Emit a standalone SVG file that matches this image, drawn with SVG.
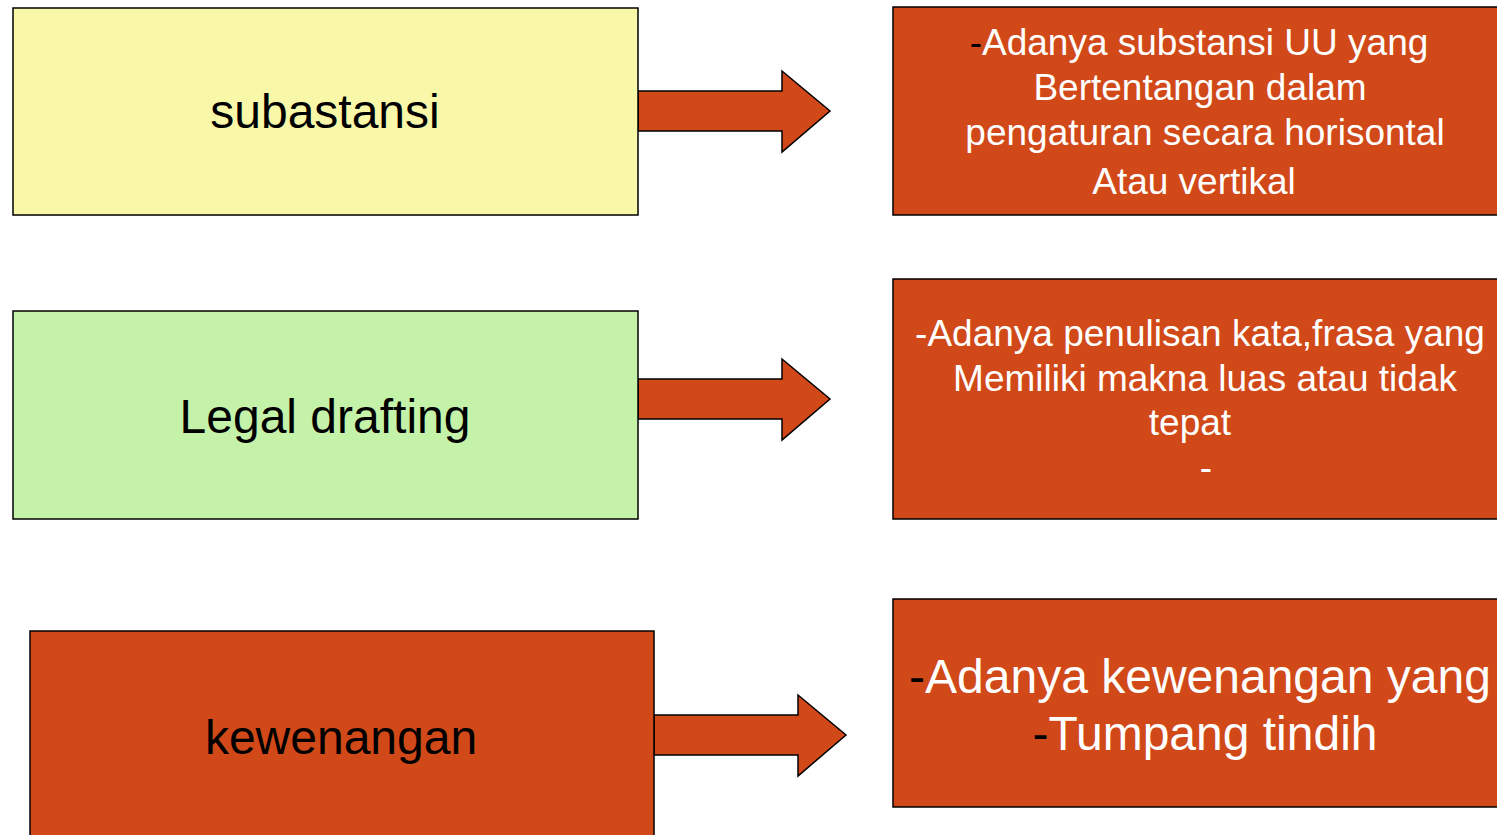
<svg xmlns="http://www.w3.org/2000/svg" width="1497" height="835" viewBox="0 0 1497 835">
<style>
.box{stroke:#000;stroke-width:1.5}
.y{fill:#F8F8A8}.g{fill:#C4F2A8}.o{fill:#D14918}
.arrow{fill:#D14918;stroke:#000;stroke-width:1.5;stroke-linejoin:miter}
.lt{font-family:"Liberation Sans",Arial,sans-serif;font-size:48px;fill:#000;text-anchor:middle}
.rt{font-family:"Liberation Sans",Arial,sans-serif;font-size:37px;fill:#fff;text-anchor:middle}
.rt2{font-family:"Liberation Sans",Arial,sans-serif;font-size:48px;fill:#fff;text-anchor:middle}
.k{fill:#000}
</style>
<rect width="1497" height="835" fill="#fff"/>
<g id="connectors">
<polygon class="arrow" points="638,91 782,91 782,71 830,111 782,152 782,131 638,131"/>
<polygon class="arrow" points="638,379 782,379 782,359 830,399 782,440 782,419 638,419"/>
<polygon class="arrow" points="654,715 798,715 798,695 846,735 798,776 798,755 654,755"/>
</g>
<g id="subastansi">
<rect class="box y" x="13" y="8" width="625" height="207"/>
<text class="lt" x="325" y="128">subastansi</text>
</g>
<g id="legal-drafting">
<rect class="box g" x="13" y="311" width="625" height="208"/>
<text class="lt" x="325" y="433">Legal drafting</text>
</g>
<g id="kewenangan">
<rect class="box o" x="30" y="631" width="624" height="210"/>
<text class="lt" x="341" y="754">kewenangan</text>
</g>
<g id="desc-substansi">
<rect class="box o" x="893" y="7" width="610" height="208"/>
<text class="rt" x="1199" y="55"><tspan class="k">-</tspan>Adanya substansi UU yang</text>
<text class="rt" x="1200" y="100">Bertentangan dalam</text>
<text class="rt" x="1205" y="145">pengaturan secara horisontal</text>
<text class="rt" x="1194" y="194">Atau vertikal</text>
</g>
<g id="desc-legal">
<rect class="box o" x="893" y="279" width="610" height="240"/>
<text class="rt" x="1200" y="346">-Adanya penulisan kata,frasa yang</text>
<text class="rt" x="1205" y="391">Memiliki makna luas atau tidak</text>
<text class="rt" x="1190" y="435">tepat</text>
<text class="rt" x="1206" y="480">-</text>
</g>
<g id="desc-kewenangan">
<rect class="box o" x="893" y="599" width="610" height="208"/>
<text class="rt2" x="1200" y="693"><tspan class="k">-</tspan>Adanya kewenangan yang</text>
<text class="rt2" x="1205" y="750"><tspan class="k">-</tspan>Tumpang tindih</text>
</g>
</svg>
